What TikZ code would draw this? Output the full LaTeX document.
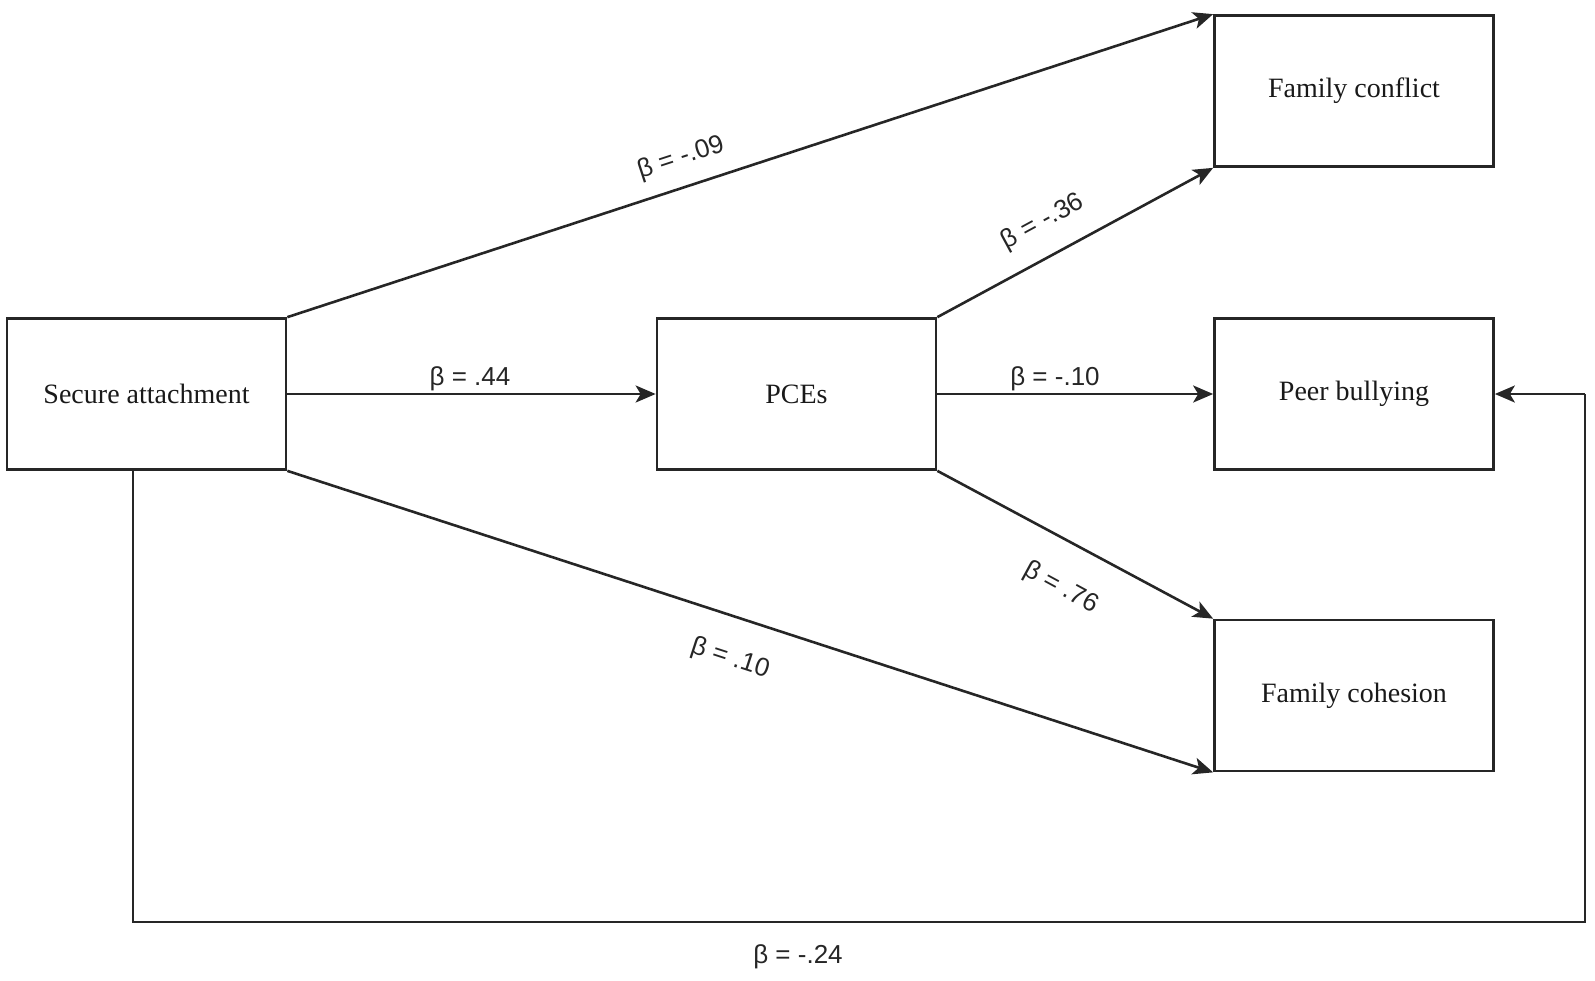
\documentclass[tikz,border=0pt]{standalone}
\usepackage{fontspec}
\setmainfont{Liberation Serif}
\newfontfamily\lblfont{Liberation Sans}
\usetikzlibrary{arrows.meta}
\begin{document}
\begin{tikzpicture}[x=1pt,y=-1pt,
  box/.style={draw=black!85, line width=2.7pt, minimum width=279pt, minimum height=151pt, inner sep=0pt, text=black!90, font=\fontsize{28}{32}\selectfont},
  conn/.style={draw=black!85, line width=2.6pt},
  arr/.style={conn, -{Stealth[length=20pt,width=17pt,inset=5pt]}},
  lbl/.style={font=\lblfont\fontsize{26}{30}\selectfont, inner sep=0pt, text=black!85}]
\useasboundingbox (0,0) rectangle (1595,980);
\node[box] (sa) at (146.5,394) {Secure attachment};
\node[box] (pce) at (796.5,394) {PCEs};
\node[box] (fc) at (1354,91) {Family conflict};
\node[box] (pb) at (1354,394) {Peer bullying};
\node[box] (fh) at (1354,695.5) {Family cohesion};
\coordinate (c1) at (133,922);
\coordinate (c2) at (1585,922);
\coordinate (c3) at (1585,394);
\draw[arr] (sa.north east) -- (fc.north west);
\draw[arr] (sa.east) -- (pce.west);
\draw[arr] (pce.north east) -- (fc.south west);
\draw[arr] (pce.east) -- (pb.west);
\draw[arr] (pce.south east) -- (fh.north west);
\draw[arr] (sa.south east) -- (fh.south west);
\draw[conn] (sa.south -| c1) -- (c1) -- (c2) -- (c3);
\draw[arr] (c3) -- (pb.east);
\node[lbl, rotate=18.1] (l1) at (681,158) {β = -.09};
\node[lbl] (l2) at (470,379) {β = .44};
\node[lbl, rotate=28.5] (l3) at (1043,222) {β = -.36};
\node[lbl] (l4) at (1055,379) {β = -.10};
\node[lbl, rotate=-28.5] (l5) at (1061,588) {β = .76};
\node[lbl, rotate=-18] (l6) at (730,659) {β = .10};
\node[lbl] (l7) at (798,957) {β = -.24};
\end{tikzpicture}
\end{document}
